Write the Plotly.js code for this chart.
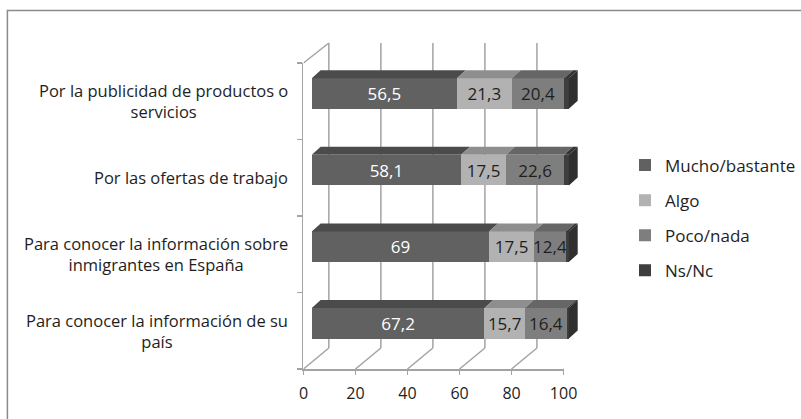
<!DOCTYPE html>
<html>
<head>
<meta charset="utf-8">
<script src="https://cdn.plot.ly/plotly-3.0.1.min.js"></script>
<style>html,body{margin:0;padding:0;background:#fff;}#chart{width:801px;height:419px;}</style>
</head>
<body>
<div id="chart"></div>
<script>
// ---- data ----
const categories = [
  "Por la publicidad de productos o servicios",
  "Por las ofertas de trabajo",
  "Para conocer la información sobre inmigrantes en España",
  "Para conocer la información de su país"
];
const categoryLabels = [
  "Por la publicidad de productos o<br>servicios",
  "Por las ofertas de trabajo",
  "Para conocer la información sobre<br>inmigrantes en España",
  "Para conocer la información de su<br>país"
];
const seriesNames = ["Mucho/bastante", "Algo", "Poco/nada", "Ns/Nc"];
const mucho = [56.5, 58.1, 69, 67.2];
const algo  = [21.3, 17.5, 17.5, 15.7];
const poco  = [20.4, 22.6, 12.4, 16.4];
const nsnc  = [1.8, 1.8, 1.1, 0.7];
const xTicks = [0, 20, 40, 60, 80, 100];

// ---- styles ----
const W = 801, H = 419;
const px = v => v / W;
const py = v => 1 - v / H;
const frontColors = ["#616161", "#b2b2b2", "#7e7e7e", "#3e3e3e"];
const topColors   = ["#4b4b4b", "#8e8e8e", "#666666", "#333333"];
const sideColor = "#2f2f2f";
const textColors = ["#ffffff", "#1e1e1e", "#1e1e1e", "#1e1e1e"];
const FONT = "Open Sans, sans-serif";
const gridCol = "#a3a3a3";

const allSeries = [mucho, algo, poco, nsnc];
const barW = 0.40;
const barX0 = 315.7, barScale = 2.603;
const barXMax = 110;
const dxU = 9 / barScale;
const catPx = 76.6;
const dyU = 8 / catPx;
const fX0 = 307.3, fX1 = 570.7;
const fScale = (fX1 - fX0) / 100;
const backOff = 333 - fX0;
const backOffU = backOff / fScale;
const frontBottom = 369, frontTop = 63, backBottom = 348, backTop = 43;

const fmt = v => String(v).replace('.', ',');

const traces = allSeries.map((vals, k) => ({
  type: 'bar', orientation: 'h',
  name: seriesNames[k],
  y: categories, x: vals,
  xaxis: 'x', yaxis: 'y',
  width: barW,
  marker: {color: frontColors[k], line: {width: 0}},
  text: k < 3 ? vals.map(fmt) : vals.map(() => ''),
  textposition: 'inside',
  insidetextanchor: 'middle',
  constraintext: 'none',
  textfont: {family: FONT, size: 17, color: textColors[k]},
  hoverinfo: 'skip',
  legendgroup: 'g' + k,
  cliponaxis: false
}));

const shapes = [];
xTicks.forEach(t => {
  shapes.push({type: 'line', xref: 'x2', yref: 'paper',
    x0: t + backOffU, x1: t + backOffU, y0: py(backBottom), y1: py(backTop),
    line: {color: gridCol, width: 1.5}, layer: 'below'});
  shapes.push({type: 'line', xref: 'x2', yref: 'paper',
    x0: t, x1: t + backOffU, y0: py(frontBottom), y1: py(backBottom),
    line: {color: gridCol, width: 1.5}, layer: 'below'});
});
shapes.push({type: 'line', xref: 'x2', yref: 'paper',
  x0: 0, x1: backOffU, y0: py(frontTop), y1: py(backTop),
  line: {color: gridCol, width: 1.5}, layer: 'below'});

categories.forEach((c, i) => {
  let cum = 0;
  const yt = i - barW / 2, yb = i + barW / 2;
  allSeries.forEach((vals, k) => {
    const a = cum, b = cum + vals[i];
    shapes.push({type: 'path', xref: 'x', yref: 'y', layer: 'above',
      path: `M${a},${yt} L${b},${yt} L${b + dxU},${yt - dyU} L${a + dxU},${yt - dyU} Z`,
      fillcolor: topColors[k], line: {width: 0}});
    cum = b;
  });
  shapes.push({type: 'path', xref: 'x', yref: 'y', layer: 'above',
    path: `M${cum},${yt} L${cum},${yb} L${cum + dxU},${yb - dyU} L${cum + dxU},${yt - dyU} Z`,
    fillcolor: sideColor, line: {width: 0}});
});

shapes.push({type: 'rect', xref: 'paper', yref: 'paper',
  x0: px(7.5), x1: 1.05, y0: -0.05, y1: py(10.5),
  line: {color: '#8a8a8a', width: 1.5}, fillcolor: 'rgba(0,0,0,0)', layer: 'below'});

const annotations = categoryLabels.map((lab, i) => ({
  xref: 'paper', yref: 'y2', x: px(294), y: i,
  xanchor: 'right', yanchor: 'middle', align: 'center',
  text: lab, showarrow: false,
  font: {family: FONT, size: 16.5, color: '#1e1e1e'}
}));

const boundaries = [];
for (let i = 0; i <= categories.length; i++) boundaries.push(i - 0.5);

const layout = {
  width: W, height: H,
  margin: {l: 0, r: 0, t: 0, b: 0},
  paper_bgcolor: '#fff', plot_bgcolor: 'rgba(0,0,0,0)',
  barmode: 'stack',
  showlegend: true,
  xaxis: {domain: [px(barX0), px(barX0 + barScale * barXMax)], range: [0, barXMax],
    visible: false, fixedrange: true, anchor: 'y'},
  yaxis: {domain: [py(323.3 + catPx * 0.5), py(323.3 - catPx * 3.5)],
    type: 'category', categoryorder: 'array', categoryarray: categories,
    range: [3.5, -0.5], visible: false, fixedrange: true, anchor: 'x'},
  xaxis2: {domain: [px(fX0), px(fX1)], anchor: 'y2', range: [0, 100],
    tickmode: 'array', tickvals: xTicks, ticktext: xTicks.map(String),
    ticks: 'outside', ticklen: 4, tickcolor: gridCol, tickwidth: 1.5,
    showline: true, linecolor: gridCol, linewidth: 1.5,
    showgrid: false, zeroline: false, automargin: false,
    ticklabelstandoff: 5,
    tickfont: {family: FONT, size: 16, color: '#1e1e1e'}},
  yaxis2: {domain: [py(frontBottom), py(frontTop)], anchor: 'x2',
    range: [3.5, -0.5], tickmode: 'array', tickvals: boundaries,
    ticks: 'outside', ticklen: 5, tickcolor: gridCol, tickwidth: 1.5,
    showticklabels: false, showline: true, linecolor: gridCol, linewidth: 1.5,
    showgrid: false, zeroline: false, automargin: false},
  legend: {x: px(633), y: py(218), xanchor: 'left', yanchor: 'middle',
    traceorder: 'grouped', tracegroupgap: 10,
    font: {family: FONT, size: 17, color: '#1e1e1e'},
    bgcolor: 'rgba(0,0,0,0)', itemwidth: 30},
  shapes: shapes,
  annotations: annotations
};

Plotly.newPlot('chart', traces, layout, {staticPlot: true, displayModeBar: false});
</script>
</body>
</html>
